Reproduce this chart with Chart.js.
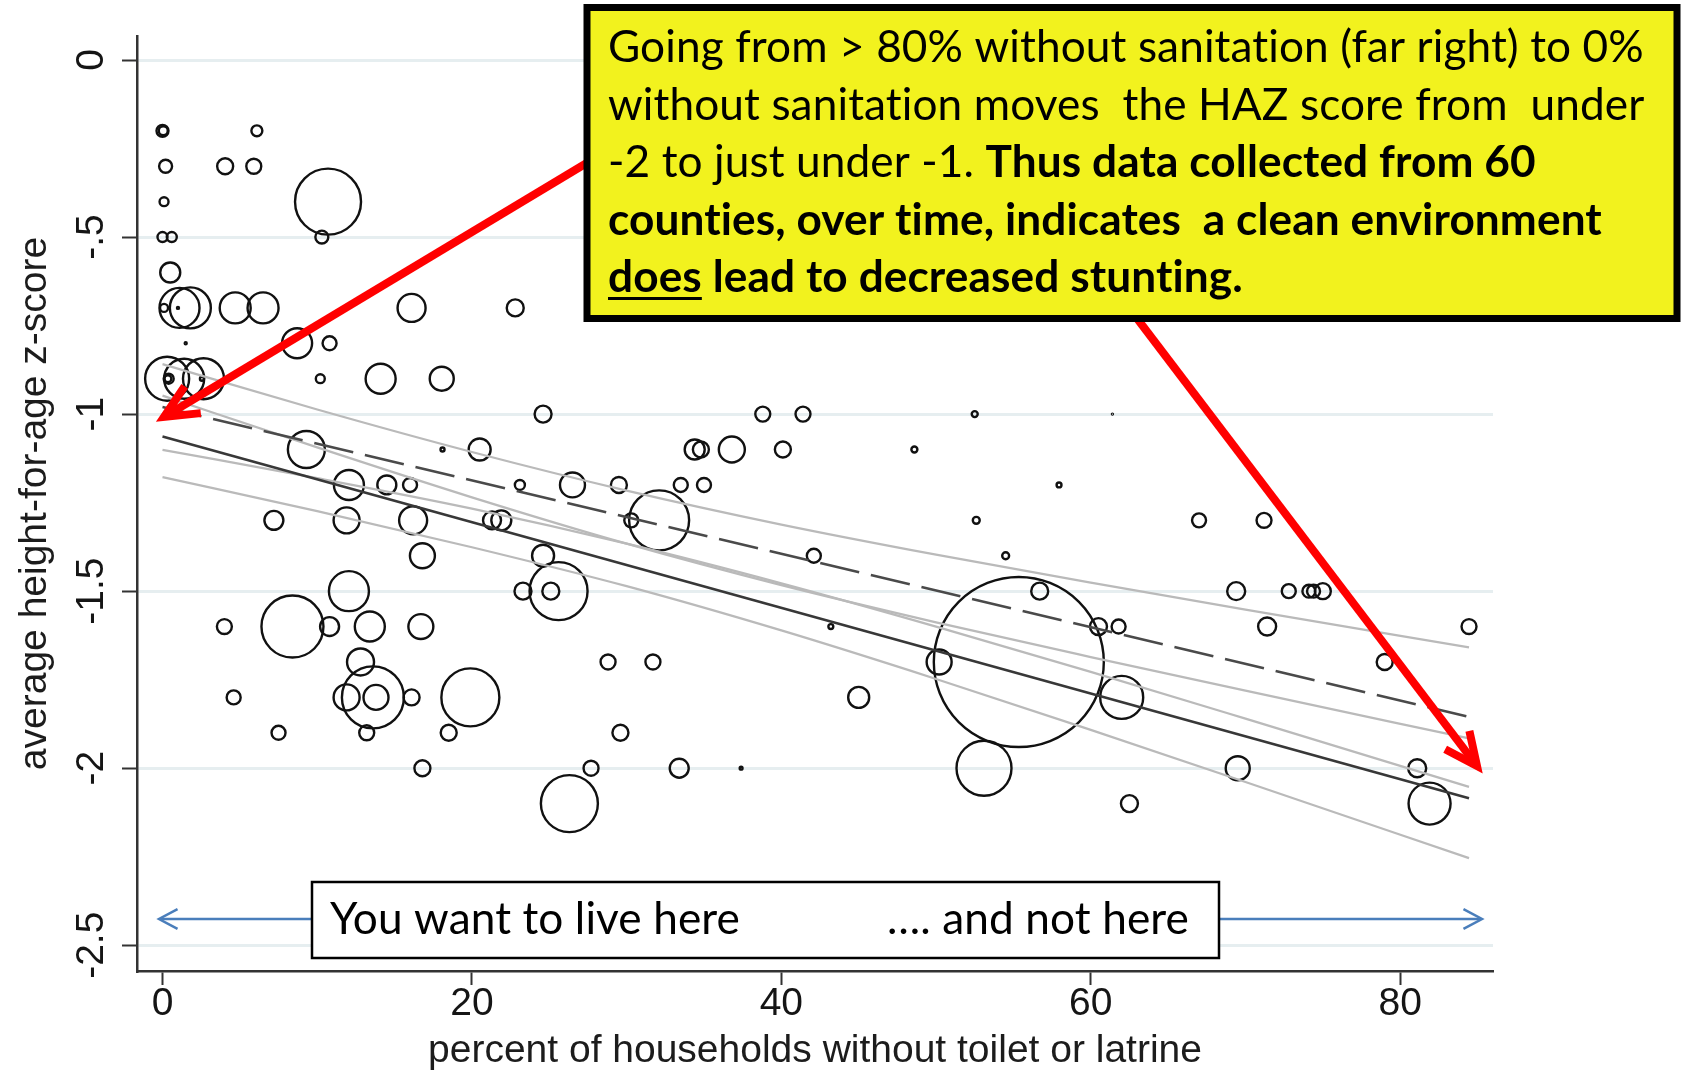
<!DOCTYPE html>
<html>
<head>
<meta charset="utf-8">
<title>Sanitation and child height-for-age</title>
<script src="https://cdn.jsdelivr.net/npm/chart.js@4.4.1/dist/chart.umd.min.js"></script>
<style>
  html, body { margin: 0; padding: 0; background: #ffffff; }
  #wrap { width: 1682px; height: 1071px; position: relative; }
  canvas { display: block; }
</style>
</head>
<body>
<div id="wrap"><canvas id="chart" width="1682" height="1071"></canvas></div>
<script>
// ---- County observations: % of households without toilet/latrine, mean HAZ, population weight ----
const pctNoToilet = [
  0, 0.05, 6.1, 0.2, 4.05, 5.9, 0.1, 10.7, 10.3, 0, 0.6, 0.5,
  0.1, 1.0, 1.1, 1.8, 4.7, 6.5, 1.5, 8.7, 10.8,
  0.3, 0.4, 0.35, 1.4, 2.65, 2.55, 10.2, 14.1, 18.05, 16.1, 22.8, 24.6,
  9.3, 18.1, 20.5, 12.05, 14.5, 16.0, 23.1, 26.5,
  7.2, 11.9, 16.2, 21.3, 21.9, 16.8, 24.6, 23.3, 25.1, 25.6, 12.05,
  4.0, 8.4, 10.8, 13.4, 16.7, 12.8, 4.6, 11.9, 13.6, 13.8, 16.1, 19.9,
  7.5, 13.2, 18.5, 16.8, 26.3, 27.7,
  38.8, 41.4, 52.5, 61.4, 34.4, 34.8, 36.8, 40.1, 48.6,
  29.5, 33.5, 35.0, 57.95, 30.3, 32.1, 52.6, 42.1, 54.5, 56.7,
  43.2, 60.5, 61.8, 28.8, 31.7, 50.2, 55.35, 45.0, 62.0, 29.6,
  33.4, 37.4, 53.1, 62.5,
  67.0, 71.2, 69.4, 72.8, 74.1, 74.4, 75.0, 71.4, 84.45, 79.0, 69.5, 81.1, 81.9
];
const hazScore = [
  -0.2, -0.2, -0.2, -0.3, -0.3, -0.3, -0.4, -0.4, -0.5, -0.5, -0.5, -0.6,
  -0.7, -0.7, -0.7, -0.7, -0.7, -0.7, -0.8, -0.8, -0.8,
  -0.9, -0.9, -0.9, -0.9, -0.9, -0.9, -0.9, -0.9, -0.9, -0.7, -0.7, -1.0,
  -1.1, -1.1, -1.1, -1.2, -1.2, -1.2, -1.2, -1.2,
  -1.3, -1.3, -1.3, -1.3, -1.3, -1.4, -1.4, -1.5, -1.5, -1.5, -1.5,
  -1.6, -1.6, -1.6, -1.6, -1.6, -1.7, -1.8, -1.8, -1.8, -1.8, -1.8, -1.8,
  -1.9, -1.9, -1.9, -2.0, -2.1, -2.0,
  -1.0, -1.0, -1.0, -1.0, -1.1, -1.1, -1.1, -1.1, -1.1,
  -1.2, -1.2, -1.2, -1.2, -1.3, -1.3, -1.3, -1.4, -1.4, -1.5,
  -1.6, -1.6, -1.6, -1.7, -1.7, -1.7, -1.7, -1.8, -1.8, -1.9,
  -2.0, -2.0, -2.0, -2.1,
  -1.3, -1.3, -1.5, -1.5, -1.5, -1.5, -1.5, -1.6, -1.6, -1.7, -2.0, -2.0, -2.1
];
const popWeight = [
  36, 20, 30, 42, 64, 56, 20, 1089, 42, 25, 25, 100,
  16, 1, 400, 420, 240, 240, 1, 225, 49,
  484, 25, 12, 400, 420, 4, 20, 225, 144, 196, 72, 72,
  342, 4, 121, 225, 90, 49, 25, 156,
  90, 169, 196, 81, 100, 156, 121, 72, 72, 841, 400,
  56, 961, 90, 225, 156, 182, 49, 169, 961, 156, 64, 841,
  49, 56, 64, 64, 812, 56,
  56, 56, 9, 0.25, 100, 64, 169, 64, 9,
  64, 49, 49, 6, 49, 900, 12, 49, 12, 72,
  6, 72, 49, 56, 56, 156, 7225, 110, 462, 64,
  90, 2, 756, 72,
  49, 56, 81, 49, 42, 42, 64, 81, 56, 64, 144, 81, 441
];

// ---- Fitted lines (two specifications) ----
const fitX = [0, 84.45];
const fitSolid = [-1.063, -2.085];
const fitDashed = [-0.98, -1.855];

// ---- 95% confidence bands around each fit ----
const bandX = [0, 10, 20, 30, 40, 50, 60, 70, 84.45];
const dashedUpper = [-0.859, -0.987, -1.107, -1.216, -1.312, -1.397, -1.476, -1.552, -1.659];
const dashedLower = [-1.101, -1.181, -1.267, -1.366, -1.478, -1.600, -1.728, -1.860, -2.053];
const solidUpper  = [-0.948, -1.094, -1.235, -1.366, -1.483, -1.588, -1.686, -1.781, -1.916];
const solidLower  = [-1.178, -1.274, -1.376, -1.486, -1.611, -1.748, -1.892, -2.039, -2.254];

// ---- Axis ticks ----
const xTickValues = [0, 20, 40, 60, 80];
const xTickLabels = ['0', '20', '40', '60', '80'];
const yTickValues = [0, -0.5, -1, -1.5, -2, -2.5];
const yTickLabels = ['0', '-.5', '-1', '-1.5', '-2', '-2.5'];

// ---- Styling ----
const AXIS_FONT = '"Liberation Sans", Arial, Helvetica, sans-serif';
const NOTE_FONT = 'Lato, "Open Sans", sans-serif';
const AXIS_PX = 39;

function pts(xs, ys) { return xs.map((x, i) => ({ x: x, y: ys[i] })); }
function bubbleRadius(w) { return Math.sqrt(w); }

// pick a note font size so the first callout line spans its box width
function fitFontSize(text, weight, family, target) {
  const m = document.createElement('canvas').getContext('2d');
  m.font = weight + ' 100px ' + family;
  if ('letterSpacing' in m) m.letterSpacing = '0.1px';
  return 100 * target / m.measureText(text).width;
}

const calloutLines = [
  [{ t: 'Going from > 80% without sanitation (far right) to 0%' }],
  [{ t: 'without sanitation moves  the HAZ score from  under' }],
  [{ t: '-2 to just under -1. ' }, { t: 'Thus data collected from 60', b: true }],
  [{ t: 'counties, over time, indicates  a clean environment', b: true }],
  [{ t: 'does', b: true, u: true }, { t: ' lead to decreased stunting.', b: true }]
];

function arrowHead(ctx, tipX, tipY, fromX, fromY, len, spreadDeg) {
  const a = Math.atan2(fromY - tipY, fromX - tipX);
  const s = spreadDeg * Math.PI / 180;
  ctx.beginPath();
  ctx.moveTo(tipX + len * Math.cos(a + s), tipY + len * Math.sin(a + s));
  ctx.lineTo(tipX, tipY);
  ctx.lineTo(tipX + len * Math.cos(a - s), tipY + len * Math.sin(a - s));
  ctx.stroke();
}

function arrow(ctx, x1, y1, x2, y2, color, width, headLen, spread) {
  ctx.save();
  ctx.strokeStyle = color;
  ctx.lineWidth = width;
  ctx.lineCap = 'butt';
  ctx.lineJoin = 'miter';
  ctx.miterLimit = 10;
  const a = Math.atan2(y1 - y2, x1 - x2);
  const back = width * 0.8;
  ctx.beginPath();
  ctx.moveTo(x1, y1);
  ctx.lineTo(x2 + back * Math.cos(a), y2 + back * Math.sin(a));
  ctx.stroke();
  arrowHead(ctx, x2, y2, x1, y1, headLen, spread);
  ctx.restore();
}

function drawRich(ctx, segs, x, y, size) {
  let cx = x;
  segs.forEach(seg => {
    ctx.font = (seg.b ? 'bold ' : '') + size + 'px ' + NOTE_FONT;
    ctx.fillText(seg.t, cx, y);
    const w = ctx.measureText(seg.t).width;
    if (seg.u) ctx.fillRect(cx, y + 5, w, 3);
    cx += w;
  });
}

const overlay = {
  id: 'overlay',
  afterDraw(chart) {
    const ctx = chart.ctx;
    const ys = chart.scales.y;

    // rotated y tick labels, Stata style
    ctx.save();
    ctx.font = AXIS_PX + 'px ' + AXIS_FONT;
    ctx.fillStyle = '#151515';
    ctx.textAlign = 'center';
    ctx.textBaseline = 'alphabetic';
    yTickValues.forEach((v, i) => {
      ctx.save();
      ctx.translate(ys.left + 103, ys.getPixelForValue(v));
      ctx.rotate(-Math.PI / 2);
      ctx.fillText(yTickLabels[i], 0, 0);
      ctx.restore();
    });
    ctx.restore();

    // red call-out arrows
    arrow(ctx, 620, 143, 164, 417, '#ff0000', 8, 37, 25);
    arrow(ctx, 1120, 296, 1477, 766, '#ff0000', 8, 36, 25);

    const noteSize = fitFontSize(calloutLines[0][0].t, 'normal', NOTE_FONT, 1033);

    // yellow call-out box
    ctx.save();
    if ('letterSpacing' in ctx) ctx.letterSpacing = '0.1px';
    ctx.fillStyle = '#f2f21e';
    ctx.fillRect(587, 7.5, 1090, 311);
    ctx.strokeStyle = '#000000';
    ctx.lineWidth = 7;
    ctx.strokeRect(587, 7.5, 1090, 311);
    ctx.fillStyle = '#000000';
    ctx.textAlign = 'left';
    ctx.textBaseline = 'alphabetic';
    calloutLines.forEach((segs, i) => drawRich(ctx, segs, 608, 62 + i * 57.5, noteSize));
    ctx.restore();

    // blue direction arrows and the bottom label box
    arrow(ctx, 312, 919, 159, 919, '#4a7ebb', 2.5, 21, 28);
    arrow(ctx, 1219, 919, 1482, 919, '#4a7ebb', 2.5, 21, 28);
    ctx.save();
    if ('letterSpacing' in ctx) ctx.letterSpacing = '0.1px';
    ctx.fillStyle = '#ffffff';
    ctx.fillRect(312, 882, 907, 76);
    ctx.strokeStyle = '#000000';
    ctx.lineWidth = 2.5;
    ctx.strokeRect(312, 882, 907, 76);
    ctx.fillStyle = '#000000';
    ctx.font = noteSize + 'px ' + NOTE_FONT;
    ctx.textBaseline = 'alphabetic';
    ctx.textAlign = 'left';
    ctx.fillText('You want to live here', 330, 934);
    ctx.textAlign = 'right';
    ctx.fillText('\u2026. and not here', 1189, 934);
    ctx.restore();
  }
};

const bubbles = pctNoToilet.map((x, i) => ({ x: x, y: hazScore[i], r: bubbleRadius(popWeight[i]) }));

const bandStyle = {
  type: 'line', borderColor: '#bababa', borderWidth: 2.3, pointRadius: 0,
  cubicInterpolationMode: 'monotone', fill: false
};

new Chart(document.getElementById('chart'), {
  type: 'bubble',
  data: {
    datasets: [
      { type: 'line', label: 'fit', data: pts(fitX, fitSolid), borderColor: '#383838', borderWidth: 2.6, pointRadius: 0, order: 0 },
      { type: 'line', label: 'fit (alt.)', data: pts(fitX, fitDashed), borderColor: '#4a4a4a', borderWidth: 2.6, borderDash: [40, 12], pointRadius: 0, order: 1 },
      Object.assign({ label: 'alt. upper', data: pts(bandX, dashedUpper), order: 2 }, bandStyle),
      Object.assign({ label: 'alt. lower', data: pts(bandX, dashedLower), order: 3 }, bandStyle),
      Object.assign({ label: 'upper', data: pts(bandX, solidUpper), order: 4 }, bandStyle),
      Object.assign({ label: 'lower', data: pts(bandX, solidLower), order: 5 }, bandStyle),
      { type: 'bubble', label: 'counties', data: bubbles, backgroundColor: 'rgba(0,0,0,0)', borderColor: '#111111', borderWidth: 2.4, order: 10, clip: false }
    ]
  },
  options: {
    responsive: false,
    animation: false,
    devicePixelRatio: 1,
    events: [],
    layout: { autoPadding: false, padding: { left: 0, right: 189, top: 36, bottom: 0 } },
    plugins: { legend: { display: false }, tooltip: { enabled: false } },
    scales: {
      x: {
        type: 'linear', position: 'bottom', min: -1.648, max: 86.0,
        afterBuildTicks: s => { s.ticks = xTickValues.map(v => ({ value: v })); },
        afterFit: s => { s.height = 100; },
        grid: { drawOnChartArea: false, drawTicks: true, tickLength: 14, tickColor: '#333333', tickWidth: 2 },
        border: { display: true, color: '#333333', width: 2.5 },
        ticks: {
          font: { family: AXIS_FONT, size: AXIS_PX, lineHeight: 1 }, color: '#151515', padding: 0,
          maxRotation: 0, minRotation: 0, autoSkip: false,
          callback: (v, i) => xTickLabels[i]
        },
        title: {
          display: true, text: 'percent of households without toilet or latrine',
          font: { family: AXIS_FONT, size: AXIS_PX, lineHeight: 1 }, color: '#1c1c1c',
          padding: { top: 0, bottom: 0 }
        }
      },
      y: {
        type: 'linear', min: -2.5727, max: 0.0678,
        afterBuildTicks: s => { s.ticks = yTickValues.map(v => ({ value: v })); },
        afterFit: s => { s.width = 137; },
        grid: { color: '#e6eef0', lineWidth: 3, drawTicks: true, tickLength: 15, tickColor: '#333333', tickWidth: 2 },
        border: { display: true, color: '#333333', width: 2.5 },
        ticks: { display: false },
        title: {
          display: true, text: 'average height-for-age z-score',
          font: { family: AXIS_FONT, size: AXIS_PX, lineHeight: 1 }, color: '#1c1c1c',
          padding: { top: 16, bottom: 0 }
        }
      }
    }
  },
  plugins: [overlay]
});
</script>
</body>
</html>
